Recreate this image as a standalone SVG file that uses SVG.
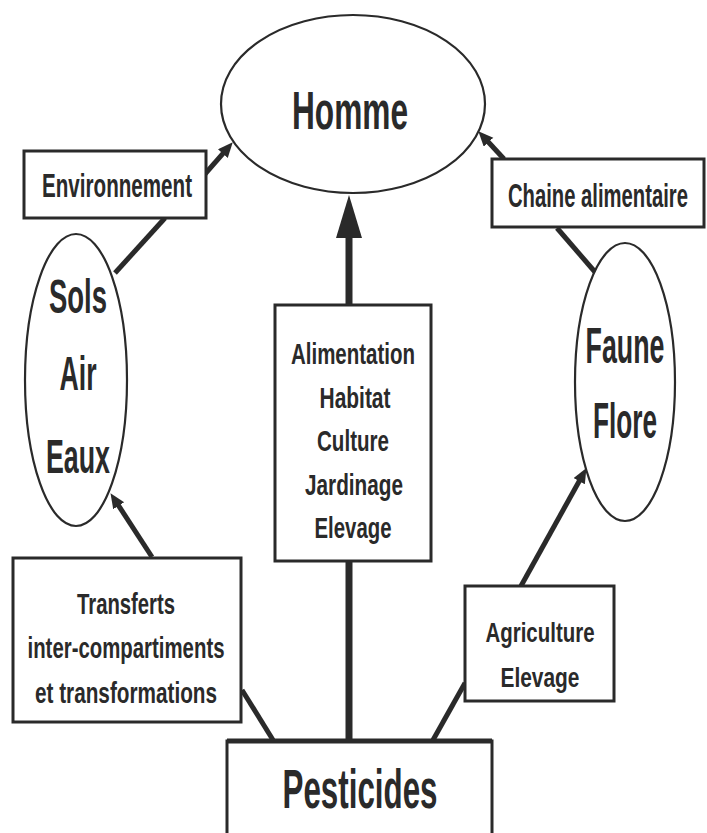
<svg xmlns="http://www.w3.org/2000/svg" width="707" height="833" viewBox="0 0 707 833">
  <style>
    text { font-family: "Liberation Sans", Arial, sans-serif; fill: #2a2a2a; text-anchor: middle; font-weight: bold; }
    .box { fill: #ffffff; stroke: #2a2a2a; stroke-width: 3; }
    .ell { fill: #ffffff; stroke: #2a2a2a; stroke-width: 2.2; }
    .con { stroke: #2a2a2a; stroke-width: 5; fill: none; }
    .big { stroke: #2a2a2a; stroke-width: 7; fill: none; }
  </style>
  <defs>
    <marker id="arr" markerUnits="userSpaceOnUse" markerWidth="16" markerHeight="14" refX="4" refY="6.5" orient="auto">
      <path d="M0,0 L15,6.5 L0,13 z" fill="#2a2a2a"/>
    </marker>
    <marker id="arrBig" markerUnits="userSpaceOnUse" markerWidth="46" markerHeight="28" refX="5" refY="13" orient="auto">
      <path d="M0,0 L43,13 L0,26 z" fill="#2a2a2a"/>
    </marker>
  </defs>
  <rect width="707" height="833" fill="#ffffff"/>

  <g id="connectors">
    <line class="big" x1="349" y1="742" x2="349" y2="233" marker-end="url(#arrBig)"/>
    <line class="con" x1="115" y1="273" x2="165" y2="218"/>
    <line class="con" x1="205" y1="174" x2="225.5" y2="150.6" marker-end="url(#arr)"/>
    <line class="con" x1="504" y1="159" x2="485.8" y2="139.3" marker-end="url(#arr)"/>
    <line class="con" x1="595" y1="272" x2="557" y2="228"/>
    <line class="con" x1="152" y1="557" x2="116.5" y2="502.4" marker-end="url(#arr)"/>
    <line class="con" x1="273" y1="740" x2="242" y2="690"/>
    <line class="con" x1="433" y1="740" x2="465" y2="683"/>
    <line class="con" x1="521" y1="586" x2="581.1" y2="477.7" marker-end="url(#arr)"/>
  </g>

  <g id="homme">
    <ellipse class="ell" cx="353" cy="104" rx="132" ry="89"/>
    <text x="350" y="129" font-size="54" textLength="116" lengthAdjust="spacingAndGlyphs">Homme</text>
  </g>

  <g id="environnement">
    <rect class="box" x="24" y="151" width="182" height="67"/>
    <text x="117" y="197" font-size="33" textLength="150" lengthAdjust="spacingAndGlyphs">Environnement</text>
  </g>

  <g id="chaine">
    <rect class="box" x="492" y="159" width="212" height="68"/>
    <text x="598" y="207" font-size="33" textLength="180" lengthAdjust="spacingAndGlyphs">Chaine alimentaire</text>
  </g>

  <g id="sols">
    <ellipse class="ell" cx="76" cy="380" rx="51" ry="146"/>
    <text x="78" y="313" font-size="48" textLength="58" lengthAdjust="spacingAndGlyphs">Sols</text>
    <text x="78" y="390" font-size="48" textLength="37" lengthAdjust="spacingAndGlyphs">Air</text>
    <text x="78" y="473" font-size="48" textLength="64" lengthAdjust="spacingAndGlyphs">Eaux</text>
  </g>

  <g id="faune">
    <ellipse class="ell" cx="625" cy="382" rx="50" ry="139"/>
    <text x="625" y="363" font-size="50" textLength="79" lengthAdjust="spacingAndGlyphs">Faune</text>
    <text x="625" y="438" font-size="50" textLength="64" lengthAdjust="spacingAndGlyphs">Flore</text>
  </g>

  <g id="usages">
    <rect class="box" x="275" y="305" width="156" height="256"/>
    <text x="353" y="364" font-size="30" textLength="124" lengthAdjust="spacingAndGlyphs">Alimentation</text>
    <text x="355" y="407.5" font-size="30" textLength="71" lengthAdjust="spacingAndGlyphs">Habitat</text>
    <text x="353" y="451" font-size="30" textLength="72" lengthAdjust="spacingAndGlyphs">Culture</text>
    <text x="354" y="494.5" font-size="30" textLength="98" lengthAdjust="spacingAndGlyphs">Jardinage</text>
    <text x="353" y="538" font-size="30" textLength="77" lengthAdjust="spacingAndGlyphs">Elevage</text>
  </g>

  <g id="transferts">
    <rect class="box" x="13" y="558" width="228" height="164"/>
    <text x="126" y="614" font-size="29" textLength="98" lengthAdjust="spacingAndGlyphs">Transferts</text>
    <text x="126" y="658" font-size="29" textLength="197" lengthAdjust="spacingAndGlyphs">inter-compartiments</text>
    <text x="126" y="703" font-size="29" textLength="182" lengthAdjust="spacingAndGlyphs">et transformations</text>
  </g>

  <g id="agriculture">
    <rect class="box" x="465" y="586" width="149" height="115"/>
    <text x="540" y="642" font-size="28" textLength="109" lengthAdjust="spacingAndGlyphs">Agriculture</text>
    <text x="540" y="687" font-size="28" textLength="79" lengthAdjust="spacingAndGlyphs">Elevage</text>
  </g>

  <g id="pesticides">
    <rect class="box" x="227" y="741" width="265" height="100"/>
    <line x1="227" y1="741" x2="492" y2="741" stroke="#2a2a2a" stroke-width="5"/>
    <text x="360" y="808" font-size="56" textLength="155" lengthAdjust="spacingAndGlyphs">Pesticides</text>
  </g>
</svg>
